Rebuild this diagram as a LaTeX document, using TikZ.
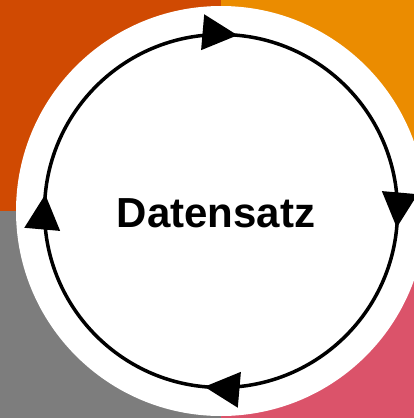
\documentclass[tikz,border=0pt]{standalone}
\usepackage{fontspec}
\setmainfont{Liberation Sans}
\usetikzlibrary{decorations.markings}
\definecolor{darkorange}{HTML}{D04A02}
\definecolor{lightorange}{HTML}{EB8C00}
\definecolor{rosepink}{HTML}{DB536A}
\definecolor{midgrey}{HTML}{7D7D7D}
% filled triangle head, tip at the mark
\newcommand{\cyclehead}{\fill (1pt,0pt) -- (-34pt,18pt) -- (-34pt,-18pt) -- cycle;}

\begin{document}
\begin{tikzpicture}[line cap=round,line join=round,x=1pt,y=-1pt]
            \useasboundingbox (0,0) rectangle (414,418);
            \clip (0,0) rectangle (414,418);
            \fill [darkorange] (0,0) rectangle (221,211);
            \fill [lightorange] (221,0) rectangle (414,211);
            \fill [midgrey] (0,211) rectangle (221,418);
            \fill [rosepink] (221,211) rectangle (414,418);
            \fill [white] (221,211) circle (205);
            \draw [line width=3.5pt, postaction={decorate},
                decoration={markings,
                    mark=at position 0.014 with {\cyclehead},
                    mark=at position 0.264 with {\cyclehead},
                    mark=at position 0.514 with {\cyclehead},
                    mark=at position 0.764 with {\cyclehead}}]
                (221,211) circle (176.5);
            \node (label) at (216,213) {\bfseries\fontsize{42}{42}\selectfont Datensatz};
            \end{tikzpicture}
\end{document}
